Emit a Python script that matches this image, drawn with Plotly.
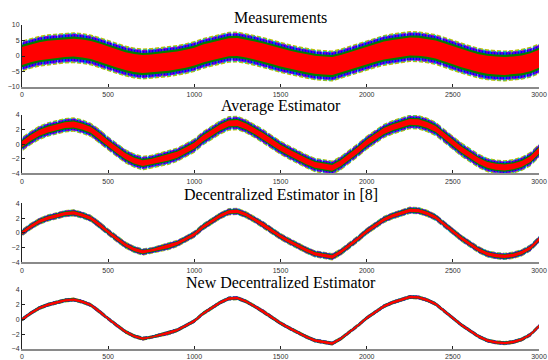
import plotly.graph_objects as go

# x positions of the read-off samples
x_vals = list(range(0, 3001, 50))
# underlying signal (every 50 samples)
signal = [0.0, 0.85, 1.55, 2.0, 2.3, 2.6, 2.7, 2.4, 1.95, 1.1,
          0.1, -0.8, -1.65, -2.25, -2.6, -2.45, -2.1, -1.85, -1.45, -0.85,
          -0.2, 0.8, 1.55, 2.3, 2.85, 2.9, 2.45, 1.8, 1.1, 0.3,
          -0.5, -1.15, -1.8, -2.35, -2.85, -3.1, -3.25, -2.6, -1.75, -0.8,
          0.2, 1.05, 1.8, 2.3, 2.7, 3.05, 3.0, 2.65, 2.1, 1.2,
          0.2, -0.75, -1.55, -2.3, -2.85, -3.1, -3.2, -3.05, -2.7, -2.05,
          -0.9]

titles = ["Measurements", "Average Estimator",
          "Decentralized Estimator in [8]", "New Decentralized Estimator"]

# estimated half-spread of each node's curve around the signal, per panel
spread_yellow = [5.0, 1.00, 0.50, 0.28]
spread_cyan = [4.7, 0.90, 0.45, 0.26]
spread_magenta = [4.5, 0.82, 0.41, 0.24]
spread_blue = [4.3, 0.75, 0.37, 0.23]
spread_green = [3.6, 0.58, 0.31, 0.20]
spread_red = [2.9, 0.40, 0.22, 0.16]

y_ranges = [[-10, 10], [-4, 4], [-4, 4], [-4, 4]]
y_ticks = [[-10, -5, 0, 5, 10], [-4, -2, 0, 2, 4], [-4, -2, 0, 2, 4], [-4, -2, 0, 2, 4]]
x_ticks = [0, 500, 1000, 1500, 2000, 2500, 3000]

W, H = 548, 360
x_dom = [22 / W, 539 / W]
panels_px = [(25, 87), (115, 173.3), (203.3, 262.3), (290, 349)]
title_px = [17, 106, 194, 282]

colors = {"yellow": "rgb(191,191,0)", "cyan": "rgb(0,191,191)",
          "magenta": "rgb(191,0,191)", "blue": "rgb(0,0,255)",
          "green": "rgb(0,128,0)", "red": "rgb(255,0,0)"}
pattern_size = {"yellow": 6, "cyan": 5, "magenta": 7, "blue": 3}

fig = go.Figure()
layout = {}
annotations = []
for i in range(4):
    xa = "x" if i == 0 else f"x{i+1}"
    ya = "y" if i == 0 else f"y{i+1}"
    layers = [("yellow", spread_yellow[i]), ("cyan", spread_cyan[i]),
              ("magenta", spread_magenta[i]), ("blue", spread_blue[i]),
              ("green", spread_green[i]), ("red", spread_red[i])]
    for cname, s in layers:
        upper = [v + s for v in signal]
        lower = [v - s for v in signal]
        if cname in ("red", "green"):
            kw = dict(fillcolor=colors[cname])
        else:
            kw = dict(fillcolor="rgba(0,0,0,0)",
                      fillpattern=dict(shape="|", fgcolor=colors[cname],
                                       bgcolor="rgba(0,0,0,0)", fgopacity=1,
                                       size=pattern_size[cname], solidity=0.7))
        fig.add_trace(go.Scatter(
            x=x_vals + x_vals[::-1], y=upper + lower[::-1],
            fill="toself", mode="lines", line=dict(width=0),
            xaxis=xa, yaxis=ya, hoverinfo="skip", showlegend=False, **kw))
    top, bot = panels_px[i]
    layout["xaxis" if i == 0 else f"xaxis{i+1}"] = dict(
        domain=x_dom, anchor=ya, range=[0, 3000], tickvals=x_ticks,
        ticks="inside", ticklen=3, tickcolor="#222", showline=True,
        linecolor="#8a8a8a", linewidth=2, showgrid=False, zeroline=False,
        automargin=False,
        tickfont=dict(family="Liberation Sans", size=7, color="#333"))
    layout["yaxis" if i == 0 else f"yaxis{i+1}"] = dict(
        domain=[1 - bot / H, 1 - top / H], anchor=xa, range=y_ranges[i],
        tickvals=y_ticks[i], ticks="inside", ticklen=3, tickcolor="#222",
        showline=True, linecolor="#222", linewidth=1, showgrid=False,
        zeroline=False, automargin=False,
        tickfont=dict(family="Liberation Sans", size=7, color="#333"))
    annotations.append(dict(
        text=titles[i], xref="paper", yref="paper", x=280.5 / W,
        y=1 - title_px[i] / H, xanchor="center", yanchor="middle",
        showarrow=False,
        font=dict(family="Liberation Serif", size=16, color="#000")))

fig.update_layout(width=W, height=H, margin=dict(l=0, r=0, t=0, b=0),
                  paper_bgcolor="white", plot_bgcolor="white",
                  annotations=annotations, **layout)
fig.write_html("out.html", config={"displayModeBar": False},
               post_script="document.body.style.margin='0';document.body.style.overflow='hidden';")
